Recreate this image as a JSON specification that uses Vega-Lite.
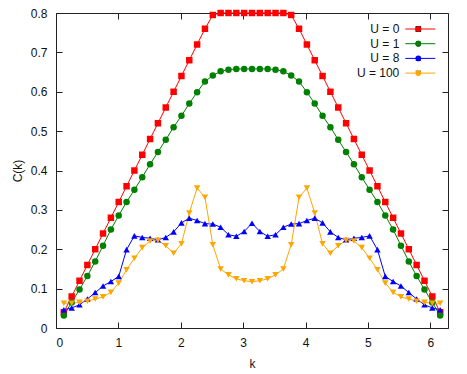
{
  "$schema": "https://vega.github.io/schema/vega-lite/v6.json",
  "width": 392,
  "height": 315,
  "autosize": {"type": "none"},
  "padding": {"left": 56, "top": 13, "right": 19, "bottom": 46},
  "config": {
    "view": {"stroke": "#222", "strokeWidth": 1},
    "font": "Liberation Sans",
    "axis": {"domain": false, "grid": false, "tickSize": -6, "tickColor": "#222", "labelFont": "Liberation Sans", "labelFontSize": 12, "labelColor": "#111", "titleFont": "Liberation Sans", "titleFontSize": 12, "titleFontWeight": "normal", "titleColor": "#111"},
    "legend": {"labelFont": "Liberation Sans", "labelFontSize": 12, "labelColor": "#111"}
  },
  "datasets": {
    "d": [
      {"U":"U = 0","k":0.1257,"C":0.04},{"U":"U = 0","k":0.2513,"C":0.08},{"U":"U = 0","k":0.3770,"C":0.12},{"U":"U = 0","k":0.5027,"C":0.16},{"U":"U = 0","k":0.6283,"C":0.20},{"U":"U = 0","k":0.7540,"C":0.24},{"U":"U = 0","k":0.8796,"C":0.28},{"U":"U = 0","k":1.0053,"C":0.32},{"U":"U = 0","k":1.1310,"C":0.36},{"U":"U = 0","k":1.2566,"C":0.40},{"U":"U = 0","k":1.3823,"C":0.44},{"U":"U = 0","k":1.5080,"C":0.48},{"U":"U = 0","k":1.6336,"C":0.52},{"U":"U = 0","k":1.7593,"C":0.56},{"U":"U = 0","k":1.8850,"C":0.60},{"U":"U = 0","k":2.0106,"C":0.64},{"U":"U = 0","k":2.1363,"C":0.68},{"U":"U = 0","k":2.2619,"C":0.72},{"U":"U = 0","k":2.3876,"C":0.76},{"U":"U = 0","k":2.5133,"C":0.795},{"U":"U = 0","k":2.6389,"C":0.8},{"U":"U = 0","k":2.7646,"C":0.8},{"U":"U = 0","k":2.8903,"C":0.8},{"U":"U = 0","k":3.0159,"C":0.8},{"U":"U = 0","k":3.1416,"C":0.8},{"U":"U = 0","k":3.2673,"C":0.8},{"U":"U = 0","k":3.3929,"C":0.8},{"U":"U = 0","k":3.5186,"C":0.8},{"U":"U = 0","k":3.6442,"C":0.8},{"U":"U = 0","k":3.7699,"C":0.795},{"U":"U = 0","k":3.8956,"C":0.76},{"U":"U = 0","k":4.0212,"C":0.72},{"U":"U = 0","k":4.1469,"C":0.68},{"U":"U = 0","k":4.2726,"C":0.64},{"U":"U = 0","k":4.3982,"C":0.60},{"U":"U = 0","k":4.5239,"C":0.56},{"U":"U = 0","k":4.6496,"C":0.52},{"U":"U = 0","k":4.7752,"C":0.48},{"U":"U = 0","k":4.9009,"C":0.44},{"U":"U = 0","k":5.0265,"C":0.40},{"U":"U = 0","k":5.1522,"C":0.36},{"U":"U = 0","k":5.2779,"C":0.32},{"U":"U = 0","k":5.4035,"C":0.28},{"U":"U = 0","k":5.5292,"C":0.24},{"U":"U = 0","k":5.6549,"C":0.20},{"U":"U = 0","k":5.7805,"C":0.16},{"U":"U = 0","k":5.9062,"C":0.12},{"U":"U = 0","k":6.0319,"C":0.08},{"U":"U = 0","k":6.1575,"C":0.04},
      {"U":"U = 1","k":0.1257,"C":0.032},{"U":"U = 1","k":0.2513,"C":0.065},{"U":"U = 1","k":0.3770,"C":0.098},{"U":"U = 1","k":0.5027,"C":0.132},{"U":"U = 1","k":0.6283,"C":0.169},{"U":"U = 1","k":0.7540,"C":0.209},{"U":"U = 1","k":0.8796,"C":0.25},{"U":"U = 1","k":1.0053,"C":0.286},{"U":"U = 1","k":1.1310,"C":0.32},{"U":"U = 1","k":1.2566,"C":0.351},{"U":"U = 1","k":1.3823,"C":0.383},{"U":"U = 1","k":1.5080,"C":0.416},{"U":"U = 1","k":1.6336,"C":0.447},{"U":"U = 1","k":1.7593,"C":0.478},{"U":"U = 1","k":1.8850,"C":0.51},{"U":"U = 1","k":2.0106,"C":0.539},{"U":"U = 1","k":2.1363,"C":0.57},{"U":"U = 1","k":2.2619,"C":0.599},{"U":"U = 1","k":2.3876,"C":0.626},{"U":"U = 1","k":2.5133,"C":0.641},{"U":"U = 1","k":2.6389,"C":0.652},{"U":"U = 1","k":2.7646,"C":0.656},{"U":"U = 1","k":2.8903,"C":0.658},{"U":"U = 1","k":3.0159,"C":0.658},{"U":"U = 1","k":3.1416,"C":0.658},{"U":"U = 1","k":3.2673,"C":0.658},{"U":"U = 1","k":3.3929,"C":0.658},{"U":"U = 1","k":3.5186,"C":0.656},{"U":"U = 1","k":3.6442,"C":0.652},{"U":"U = 1","k":3.7699,"C":0.641},{"U":"U = 1","k":3.8956,"C":0.626},{"U":"U = 1","k":4.0212,"C":0.599},{"U":"U = 1","k":4.1469,"C":0.57},{"U":"U = 1","k":4.2726,"C":0.539},{"U":"U = 1","k":4.3982,"C":0.51},{"U":"U = 1","k":4.5239,"C":0.478},{"U":"U = 1","k":4.6496,"C":0.447},{"U":"U = 1","k":4.7752,"C":0.416},{"U":"U = 1","k":4.9009,"C":0.383},{"U":"U = 1","k":5.0265,"C":0.351},{"U":"U = 1","k":5.1522,"C":0.32},{"U":"U = 1","k":5.2779,"C":0.286},{"U":"U = 1","k":5.4035,"C":0.25},{"U":"U = 1","k":5.5292,"C":0.209},{"U":"U = 1","k":5.6549,"C":0.169},{"U":"U = 1","k":5.7805,"C":0.132},{"U":"U = 1","k":5.9062,"C":0.098},{"U":"U = 1","k":6.0319,"C":0.065},{"U":"U = 1","k":6.1575,"C":0.032},
      {"U":"U = 8","k":0.1257,"C":0.0465},{"U":"U = 8","k":0.2513,"C":0.051},{"U":"U = 8","k":0.3770,"C":0.059},{"U":"U = 8","k":0.5027,"C":0.0736},{"U":"U = 8","k":0.6283,"C":0.09},{"U":"U = 8","k":0.7540,"C":0.1066},{"U":"U = 8","k":0.8796,"C":0.118},{"U":"U = 8","k":1.0053,"C":0.131},{"U":"U = 8","k":1.1310,"C":0.199},{"U":"U = 8","k":1.2566,"C":0.234},{"U":"U = 8","k":1.3823,"C":0.23},{"U":"U = 8","k":1.5080,"C":0.228},{"U":"U = 8","k":1.6336,"C":0.224},{"U":"U = 8","k":1.7593,"C":0.23},{"U":"U = 8","k":1.8850,"C":0.244},{"U":"U = 8","k":2.0106,"C":0.267},{"U":"U = 8","k":2.1363,"C":0.279},{"U":"U = 8","k":2.2619,"C":0.273},{"U":"U = 8","k":2.3876,"C":0.265},{"U":"U = 8","k":2.5133,"C":0.264},{"U":"U = 8","k":2.6389,"C":0.256},{"U":"U = 8","k":2.7646,"C":0.237},{"U":"U = 8","k":2.8903,"C":0.233},{"U":"U = 8","k":3.0159,"C":0.245},{"U":"U = 8","k":3.1416,"C":0.266},{"U":"U = 8","k":3.2673,"C":0.245},{"U":"U = 8","k":3.3929,"C":0.233},{"U":"U = 8","k":3.5186,"C":0.237},{"U":"U = 8","k":3.6442,"C":0.256},{"U":"U = 8","k":3.7699,"C":0.264},{"U":"U = 8","k":3.8956,"C":0.265},{"U":"U = 8","k":4.0212,"C":0.273},{"U":"U = 8","k":4.1469,"C":0.279},{"U":"U = 8","k":4.2726,"C":0.267},{"U":"U = 8","k":4.3982,"C":0.244},{"U":"U = 8","k":4.5239,"C":0.23},{"U":"U = 8","k":4.6496,"C":0.224},{"U":"U = 8","k":4.7752,"C":0.228},{"U":"U = 8","k":4.9009,"C":0.23},{"U":"U = 8","k":5.0265,"C":0.234},{"U":"U = 8","k":5.1522,"C":0.199},{"U":"U = 8","k":5.2779,"C":0.131},{"U":"U = 8","k":5.4035,"C":0.118},{"U":"U = 8","k":5.5292,"C":0.1066},{"U":"U = 8","k":5.6549,"C":0.09},{"U":"U = 8","k":5.7805,"C":0.0736},{"U":"U = 8","k":5.9062,"C":0.059},{"U":"U = 8","k":6.0319,"C":0.051},{"U":"U = 8","k":6.1575,"C":0.0465},
      {"U":"U = 100","k":0.1257,"C":0.063},{"U":"U = 100","k":0.2513,"C":0.063},{"U":"U = 100","k":0.3770,"C":0.065},{"U":"U = 100","k":0.5027,"C":0.068},{"U":"U = 100","k":0.6283,"C":0.0736},{"U":"U = 100","k":0.7540,"C":0.079},{"U":"U = 100","k":0.8796,"C":0.0905},{"U":"U = 100","k":1.0053,"C":0.114},{"U":"U = 100","k":1.1310,"C":0.148},{"U":"U = 100","k":1.2566,"C":0.177},{"U":"U = 100","k":1.3823,"C":0.204},{"U":"U = 100","k":1.5080,"C":0.221},{"U":"U = 100","k":1.6336,"C":0.2226},{"U":"U = 100","k":1.7593,"C":0.209},{"U":"U = 100","k":1.8850,"C":0.19},{"U":"U = 100","k":2.0106,"C":0.214},{"U":"U = 100","k":2.1363,"C":0.292},{"U":"U = 100","k":2.2619,"C":0.3555},{"U":"U = 100","k":2.3876,"C":0.332},{"U":"U = 100","k":2.5133,"C":0.2115},{"U":"U = 100","k":2.6389,"C":0.15},{"U":"U = 100","k":2.7646,"C":0.135},{"U":"U = 100","k":2.8903,"C":0.125},{"U":"U = 100","k":3.0159,"C":0.12},{"U":"U = 100","k":3.1416,"C":0.1176},{"U":"U = 100","k":3.2673,"C":0.12},{"U":"U = 100","k":3.3929,"C":0.125},{"U":"U = 100","k":3.5186,"C":0.135},{"U":"U = 100","k":3.6442,"C":0.15},{"U":"U = 100","k":3.7699,"C":0.2115},{"U":"U = 100","k":3.8956,"C":0.332},{"U":"U = 100","k":4.0212,"C":0.3555},{"U":"U = 100","k":4.1469,"C":0.292},{"U":"U = 100","k":4.2726,"C":0.214},{"U":"U = 100","k":4.3982,"C":0.19},{"U":"U = 100","k":4.5239,"C":0.209},{"U":"U = 100","k":4.6496,"C":0.2226},{"U":"U = 100","k":4.7752,"C":0.221},{"U":"U = 100","k":4.9009,"C":0.204},{"U":"U = 100","k":5.0265,"C":0.177},{"U":"U = 100","k":5.1522,"C":0.148},{"U":"U = 100","k":5.2779,"C":0.114},{"U":"U = 100","k":5.4035,"C":0.0905},{"U":"U = 100","k":5.5292,"C":0.079},{"U":"U = 100","k":5.6549,"C":0.0736},{"U":"U = 100","k":5.7805,"C":0.068},{"U":"U = 100","k":5.9062,"C":0.065},{"U":"U = 100","k":6.0319,"C":0.063},{"U":"U = 100","k":6.1575,"C":0.063}
    ]
  },
  "data": {"name": "d"},
  "layer": [
    {
      "mark": {"type": "line", "strokeWidth": 1},
      "encoding": {
        "x": {"field": "k", "type": "quantitative", "scale": {"domain": [0, 6.2832], "nice": false, "zero": false},
              "axis": {"orient": "bottom", "title": "k", "values": [0,1,2,3,4,5,6], "labelPadding": 15, "titlePadding": 10}},
        "y": {"field": "C", "type": "quantitative", "scale": {"domain": [0, 0.8], "nice": false},
              "axis": {"orient": "left", "title": "C(k)", "values": [0,0.1,0.2,0.3,0.4,0.5,0.6,0.7,0.8], "format": "~g", "labelPadding": 15, "titlePadding": 6}},
        "color": {"field": "U", "type": "nominal",
                  "scale": {"domain": ["U = 0","U = 1","U = 8","U = 100"], "range": ["#ff0000","#008000","#0000ff","#ffa500"]},
                  "legend": {"orient": "none", "legendX": 358.3, "legendY": 10, "title": null, "symbolType": "M-3,0L3,0", "symbolSize": 100, "symbolStrokeWidth": 1, "labelAlign": "right", "labelOffset": -27, "rowPadding": 2.7}}
      }
    },
    {
      "mark": {"type": "point", "filled": true, "size": 42, "opacity": 1},
      "encoding": {
        "x": {"field": "k", "type": "quantitative", "axis": {"orient": "top", "labels": false, "title": null, "values": [0,1,2,3,4,5,6]}},
        "y": {"field": "C", "type": "quantitative", "axis": {"orient": "right", "labels": false, "title": null, "values": [0,0.1,0.2,0.3,0.4,0.5,0.6,0.7,0.8]}},
        "color": {"field": "U", "type": "nominal",
                  "legend": {"orient": "none", "legendX": 356.3, "legendY": 10, "title": null, "symbolSize": 32, "labelExpr": "''", "rowPadding": 2.7}},
        "shape": {"field": "U", "type": "nominal",
                  "scale": {"domain": ["U = 0","U = 1","U = 8","U = 100"], "range": ["square","circle","triangle-up","triangle-down"]},
                  "legend": {"orient": "none", "legendX": 356.3, "legendY": 10, "title": null, "symbolSize": 32, "labelExpr": "''", "rowPadding": 2.7}}
      }
    }
  ],
  "resolve": {"axis": {"x": "independent", "y": "independent"}, "legend": {"color": "independent"}}
}
